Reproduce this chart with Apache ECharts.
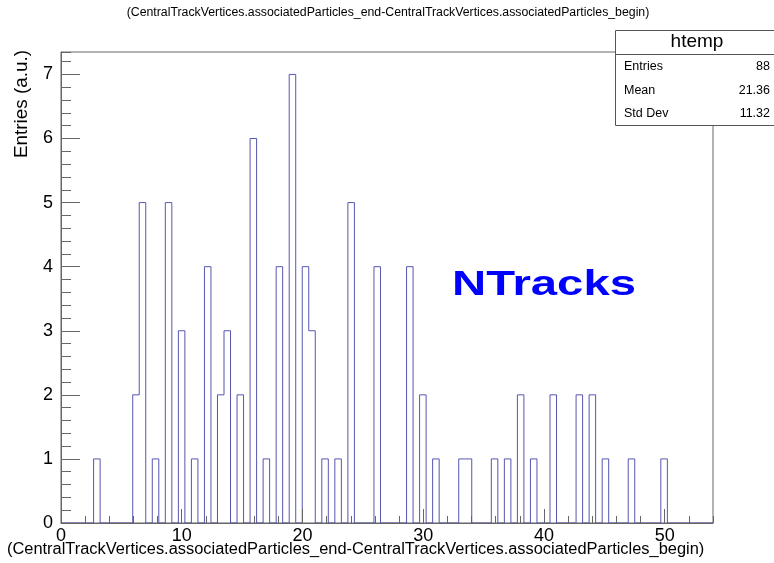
<!DOCTYPE html>
<html><head><meta charset="utf-8">
<script src="https://cdn.jsdelivr.net/npm/echarts@6/dist/echarts.min.js"></script>
<style>html,body{margin:0;padding:0;background:#fff}#c{width:774px;height:563px}</style>
</head><body><div id="c"></div>
<script>
// ---- data ----
const trackValues = [3,6,7,8,9,10,11,12,13,14,15,16,17,18,19,20,21,22,23,24,26,29,30,31,33,34,36,37,38,39,41,43,44,45,47,50];
const trackCounts = [1,2,5,1,5,3,1,4,2,3,2,6,1,4,7,4,3,1,1,5,4,4,2,1,1,1,1,1,2,1,2,2,2,1,1,1];
const xTickLabels = ['0','10','20','30','40','50'];
const yTickLabels = ['0','1','2','3','4','5','6','7'];
const xRange = [0, 54];
const nBins = 100;
const yMax = 7.35;
const histName = 'htemp';
const statLabels = ['Entries', 'Mean', 'Std Dev'];
const statValues = ['88', '21.36', '11.32'];
const titleText = '(CentralTrackVertices.associatedParticles_end-CentralTrackVertices.associatedParticles_begin)';
const xTitle = '(CentralTrackVertices.associatedParticles_end-CentralTrackVertices.associatedParticles_begin)';
const yTitle = 'Entries (a.u.)';
const overlayText = 'NTracks';

// ---- build histogram bins ----
const binW = (xRange[1] - xRange[0]) / nBins;
const counts = new Array(nBins).fill(0);
trackValues.forEach((v, i) => {
  const b = Math.floor((v - xRange[0]) / binW + 1e-9);
  if (b >= 0 && b < nBins) counts[b] += trackCounts[i];
});
const pts = [];
for (let i = 0; i < nBins; i++) pts.push([xRange[0] + i * binW, counts[i]]);
pts.push([xRange[1], 0]);

// ---- text fitting helpers ----
const FAM = "'Liberation Sans', Arial, Helvetica, sans-serif";
const mctx = document.createElement('canvas').getContext('2d');
function textW(text, weight, size) { mctx.font = weight + ' ' + size + 'px ' + FAM; return mctx.measureText(text).width; }
function fitSize(text, weight, target) { return 100 * target / textW(text, weight, 100); }

const titleSize = fitSize(titleText, 'normal', 523);
const xTitleSize = fitSize(xTitle, 'normal', 698);
const yTitleSize = fitSize(yTitle, 'normal', 108);
const ntSize = 35;
const ntScale = 184 / textW(overlayText, 'bold', ntSize);

const axisCol = '#666';
const chart = echarts.init(document.getElementById('c'), null, {renderer: 'canvas'});
chart.setOption({
  animation: false,
  backgroundColor: '#fff',
  grid: {left: 61, right: 61, top: 52, bottom: 40, show: true, borderColor: axisCol, borderWidth: 1, backgroundColor: 'transparent'},
  xAxis: [
    {type: 'value', min: xRange[0], max: xRange[1], interval: 10, position: 'bottom', z: 5,
     axisLine: {show: true, onZero: false, lineStyle: {color: axisCol}},
     axisTick: {show: true, inside: true, length: 14, lineStyle: {color: axisCol}},
     axisLabel: {margin: 4, fontSize: 18, color: '#000', fontFamily: FAM, showMaxLabel: false,
       formatter: v => (xTickLabels.includes(String(v)) ? String(v) : '')},
     splitLine: {show: false}},
    {type: 'value', min: xRange[0], max: xRange[1], interval: 2, position: 'bottom',
     axisLine: {show: false},
     axisTick: {show: true, inside: true, length: 7, lineStyle: {color: axisCol}},
     axisLabel: {show: false}, splitLine: {show: false}}
  ],
  yAxis: [
    {type: 'value', min: 0, max: yMax, interval: 1, position: 'left', z: 5,
     axisLine: {show: true, onZero: false, lineStyle: {color: axisCol}},
     axisTick: {show: true, inside: true, length: 19, lineStyle: {color: axisCol}},
     axisLabel: {margin: 8, fontSize: 18, color: '#000', fontFamily: FAM, showMaxLabel: false,
       formatter: v => (yTickLabels.includes(String(v)) ? String(v) : '')},
     splitLine: {show: false}},
    {type: 'value', min: 0, max: yMax, interval: 0.2, position: 'left',
     axisLine: {show: false},
     axisTick: {show: true, inside: true, length: 10, lineStyle: {color: axisCol}},
     axisLabel: {show: false}, splitLine: {show: false}}
  ],
  series: [{
    type: 'line', step: 'end', data: pts, xAxisIndex: 0, yAxisIndex: 0,
    symbol: 'none', showSymbol: false, silent: true, clip: true, z: 3,
    lineStyle: {color: '#5656b0', width: 1}
  }],
  graphic: [
    {type: 'text', x: 388, y: 12.5, z: 10, style: {text: titleText, font: 'normal ' + titleSize.toFixed(2) + 'px ' + FAM, fill: '#000', align: 'center', verticalAlign: 'middle'}},
    {type: 'text', x: 7, y: 549.5, z: 10, style: {text: xTitle, font: 'normal ' + xTitleSize.toFixed(2) + 'px ' + FAM, fill: '#000', align: 'left', verticalAlign: 'middle'}},
    {type: 'text', x: 22, y: 104, rotation: Math.PI / 2, z: 10, style: {text: yTitle, font: 'normal ' + yTitleSize.toFixed(2) + 'px ' + FAM, fill: '#000', align: 'center', verticalAlign: 'middle'}},
    {type: 'text', x: 452, y: 285.5, scaleX: ntScale, z: 10, style: {text: overlayText, font: 'bold ' + ntSize + 'px ' + FAM, fill: '#0000ff', align: 'left', verticalAlign: 'middle'}},
    {type: 'rect', z: 20, shape: {x: 615.5, y: 30.5, width: 170, height: 95}, style: {fill: '#fff', stroke: '#555', lineWidth: 1}},
    {type: 'line', z: 21, shape: {x1: 615.5, y1: 54.5, x2: 774, y2: 54.5}, style: {stroke: '#555', lineWidth: 1}},
    {type: 'text', x: 697, y: 42, z: 22, style: {text: histName, font: 'normal 19px ' + FAM, fill: '#000', align: 'center', verticalAlign: 'middle'}},
    ...statLabels.map((t, i) => ({type: 'text', x: 624, y: 67 + i * 23.3, z: 22, style: {text: t, font: 'normal 12.5px ' + FAM, fill: '#000', align: 'left', verticalAlign: 'middle'}})),
    ...statValues.map((t, i) => ({type: 'text', x: 770, y: 67 + i * 23.3, z: 22, style: {text: t, font: 'normal 12.5px ' + FAM, fill: '#000', align: 'right', verticalAlign: 'middle'}}))
  ]
});
</script>
</body></html>
